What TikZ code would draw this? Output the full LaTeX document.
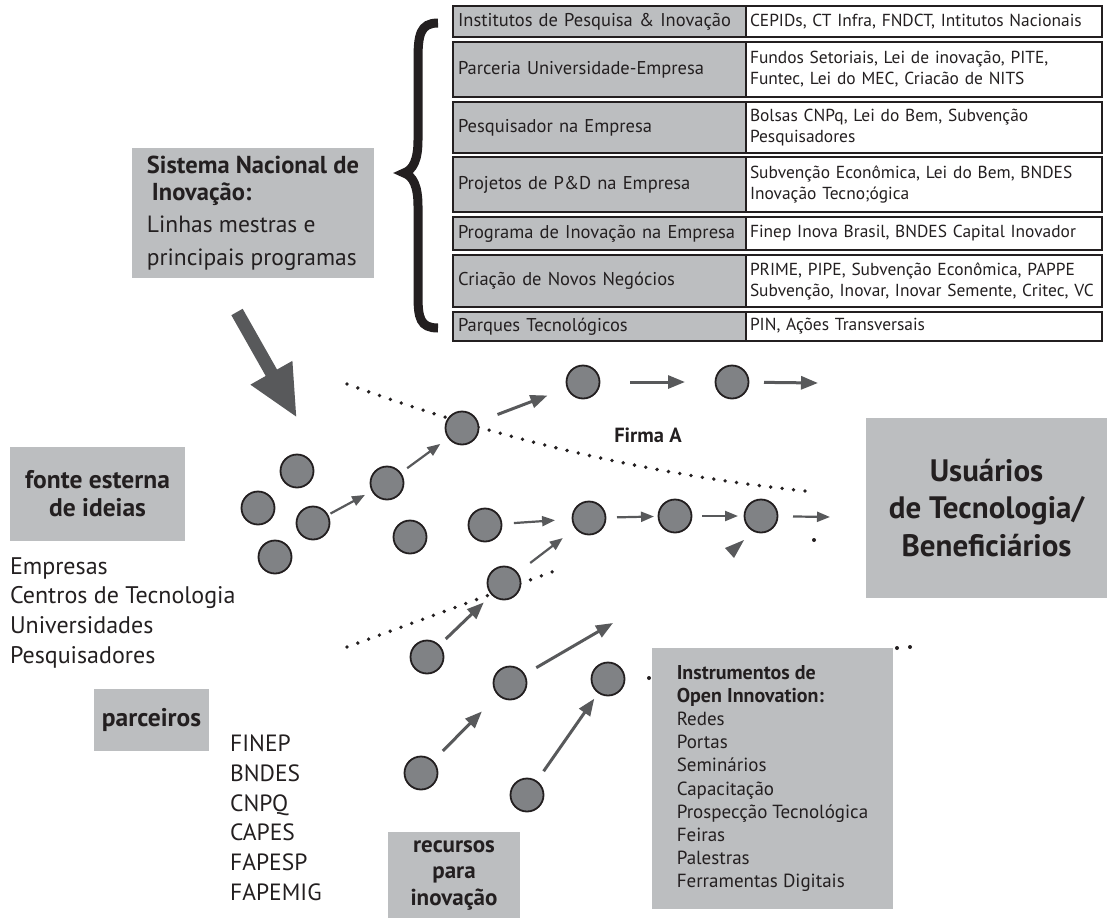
\documentclass[tikz,border=0pt]{standalone}
\usepackage{fontspec}
\setmainfont{PT Sans}
\usepackage{xcolor}
\usepackage{tikz}
\usetikzlibrary{arrows.meta,
                positioning}

\definecolor{cinza}{HTML}{BCBEC0}
\definecolor{cinzabola}{HTML}{808285}
\definecolor{cinzaseta}{HTML}{58595B}
\definecolor{tinta}{HTML}{231F20}

\newcommand{\tabfonte}{\fontsize{18.5}{21}\selectfont}
\newcommand{\tabfontedir}{\fontsize{17.4}{21}\selectfont}
\newcommand{\listafonte}{\fontsize{24}{29.6}\selectfont}

\tikzset{
  celesq/.style={draw=tinta, line width=1.6pt, fill=cinza, text width=283pt, inner xsep=5pt, inner ysep=0pt, outer sep=0pt, align=left, font=\tabfonte, text=tinta},
  celdir/.style={draw=tinta, line width=1.6pt, fill=white, text width=348pt, inner xsep=4pt, inner ysep=0pt, outer sep=0pt, align=left, font=\tabfontedir, text=tinta},
  bolinha/.style={circle, draw=tinta, line width=1.8pt, fill=cinzabola, minimum size=33pt, inner sep=0pt},
  caixa/.style={fill=cinza, inner sep=0pt, text=tinta},
  lista/.style={inner sep=0pt, align=left, font=\listafonte, text=tinta},
  seta/.style={draw=cinzaseta, line width=3pt, -{Triangle[length=17pt,width=13pt]}},
  setafina/.style={draw=cinzaseta, line width=2.2pt, -{Triangle[length=13pt,width=10pt]}},
  pontos/.style={draw=tinta, line width=3.8pt, line cap=round, dash pattern=on 0pt off 11.5pt},
}

\begin{document}
\begin{tikzpicture}[x=1pt,y=-1pt]
    \useasboundingbox (0,0) rectangle (1108,918);

    % tabela de programas
    \node[celesq, minimum height=31pt, anchor=north west] (l1) at (453,6) {Institutos de Pesquisa \& Inovação};
    \node[celdir, minimum height=31pt, right=0pt of l1] (r1) {CEPIDs, CT Infra, FNDCT, Intitutos Nacionais};
    \node[celesq, minimum height=55pt, anchor=north west] (l2) at (453,42) {Parceria Universidade-Empresa};
    \node[celdir, minimum height=55pt, right=0pt of l2] (r2) {Fundos Setoriais, Lei de inovação, PITE,\\Funtec, Lei do MEC, Criacão de NITS};
    \node[celesq, minimum height=51pt, anchor=north west] (l3) at (453,102) {Pesquisador na Empresa};
    \node[celdir, minimum height=51pt, right=0pt of l3] (r3) {Bolsas CNPq, Lei do Bem, Subvenção\\Pesquisadores};
    \node[celesq, minimum height=55pt, anchor=north west] (l4) at (453,157) {Projetos de P\&D na Empresa};
    \node[celdir, minimum height=55pt, right=0pt of l4] (r4) {Subvenção Econômica, Lei do Bem, BNDES\\Inovação Tecno;ógica};
    \node[celesq, minimum height=33pt, anchor=north west] (l5) at (453,217) {Programa de Inovação na Empresa};
    \node[celdir, minimum height=33pt, right=0pt of l5] (r5) {Finep Inova Brasil, BNDES Capital Inovador};
    \node[celesq, minimum height=52pt, anchor=north west] (l6) at (453,255) {Criação de Novos Negócios};
    \node[celdir, minimum height=52pt, right=0pt of l6] (r6) {PRIME, PIPE, Subvenção Econômica, PAPPE\\Subvenção, Inovar, Inovar Semente, Critec, VC};
    \node[celesq, minimum height=29pt, anchor=north west] (l7) at (453,312) {Parques Tecnológicos};
    \node[celdir, minimum height=29pt, right=0pt of l7] (r7) {PIN, Ações Transversais};

    % chave
    \draw[tinta, line width=9pt] (438,23) .. controls (420,23) and (418,35) .. (418,60) -- (418,140)
        .. controls (418,160) and (413,170) .. (404,173) .. controls (413,176) and (418,186) .. (418,206)
        -- (418,295) .. controls (418,318) and (420,328) .. (438,328);

    \node[caixa, minimum width=242pt, minimum height=130pt, align=left, font=\fontsize{23.5}{24}\selectfont] (sni) at (253,213)
        {{\bfseries\fontsize{24.5}{24}\selectfont Sistema Nacional de}\\[3pt]{\bfseries\fontsize{24.5}{24}\selectfont\hspace{5pt}Inovação:}\\[8pt]Linhas mestras e\\[9pt]principais programas};

    \coordinate (grandeini) at (237,312);
    \coordinate (grandefim) at (297,418);
    \draw[draw=cinzaseta, line width=13pt, -{Triangle[length=52pt,width=44pt]}] (grandeini) -- (grandefim);

    % fronteiras pontilhadas
    \draw[pontos] (347,384) .. controls (500,440) and (650,475) .. (814,492);
    \draw[pontos] (347,647) -- (560,569);
    \fill[tinta] (814,540) circle (2pt);
    \fill[tinta] (897,648) circle (2pt);
    \fill[tinta] (910,647) circle (2pt);
    \fill[tinta] (649,678) circle (2pt);

    \foreach \nome/\x/\y in {a1/297/471, a2/258/508, a3/313/523, a4/275/557, b1/387/483, b2/410/537,
                             f1/462/428, f2/583/382, f3/732/382, m1/485/525, m2/589/518, m3/675/516, m4/761/516,
                             p1/504/583, p2/427/657, p3/421/773, p4/510/683, p5/527/795, p6/608/679}{%
      \node[bolinha] (\nome) at (\x,\y) {};
    }

    \coordinate (f3fim) at (818,383);
    \coordinate (m4fim) at (830,517);
    \coordinate (p4fim) at (613,623);

    \draw[setafina, shorten <=2.5pt, shorten >=7.6pt] (a3) -- (b1);
    \draw[setafina, shorten <=7.6pt, shorten >=9.5pt] (b1) -- (f1);
    \draw[seta, shorten <=20.6pt, shorten >=20.6pt] (f1) -- (f2);
    \draw[seta, shorten <=29.6pt, shorten >=29.6pt] (f2) -- (f3);
    \draw[seta, shorten <=14.6pt] (f3) -- (f3fim);
    \draw[setafina, shorten <=11.6pt, shorten >=16.6pt] (m1) -- (m2);
    \draw[setafina, shorten <=10.6pt, shorten >=3.6pt] (m2) -- (m3);
    \draw[setafina, shorten <=9.6pt, shorten >=5.6pt] (m3) -- (m4);
    \draw[setafina, shorten <=14.6pt] (m4) -- (m4fim);
    \draw[setafina, shorten <=15.6pt, shorten >=15.6pt] (p1) -- (m2);
    \draw[seta, shorten <=8.6pt, shorten >=10.6pt] (p2) -- (p1);
    \draw[seta, shorten <=13pt] (p4) -- (p4fim);
    \draw[seta, shorten <=13.6pt, shorten >=22.6pt] (p3) -- (p4);
    \draw[seta, shorten <=11.6pt, shorten >=6.6pt] (p5) -- (p6);
    \fill[cinzaseta] (725,548) -- (744,540) -- (734,558) -- cycle;

    \node[font=\bfseries\fontsize{20.5}{22}\selectfont, text=tinta] (firma) at (648,435) {Firma A};

    \node[caixa, minimum width=175pt, minimum height=94pt, align=center, font=\bfseries\fontsize{25.5}{28}\selectfont] (fonte) at (97.5,494) {fonte esterna\\de ideias};
    \node[lista, below right=16pt and 0pt of fonte.south west] (origens) {Empresas\\Centros de Tecnologia\\Universidades\\Pesquisadores};

    \node[caixa, minimum width=115pt, minimum height=62pt, font=\bfseries\fontsize{25.5}{26}\selectfont] (parc) at (151.5,720) {parceiros};
    \node[lista, anchor=north west, font=\fontsize{23.5}{29.8}\selectfont] (agencias) at (230,734.5) {FINEP\\BNDES\\CNPQ\\CAPES\\FAPESP\\FAPEMIG};

    \node[caixa, minimum width=132pt, minimum height=86pt, align=center, font=\bfseries\fontsize{23}{26.5}\selectfont] (recursos) at (454,875) {recursos\\para\\inovação};

    \node[caixa, minimum width=241pt, minimum height=180pt, align=center, font=\bfseries\fontsize{31}{37.5}\selectfont] (usuarios) at (986.5,508) {Usuários\\de Tecnologia/\\Beneficiários};

    \node[caixa, minimum width=241pt, minimum height=261pt, align=left, font=\fontsize{19}{23.2}\selectfont] (instr) at (772.5,778.5)
        {{\bfseries\fontsize{20}{23.2}\selectfont Instrumentos de}\\{\bfseries\fontsize{20}{23.2}\selectfont Open Innovation:}\\Redes\\Portas\\Seminários\\Capacitação\\Prospecção Tecnológica\\Feiras\\Palestras\\Ferramentas Digitais};

\end{tikzpicture}
\end{document}
